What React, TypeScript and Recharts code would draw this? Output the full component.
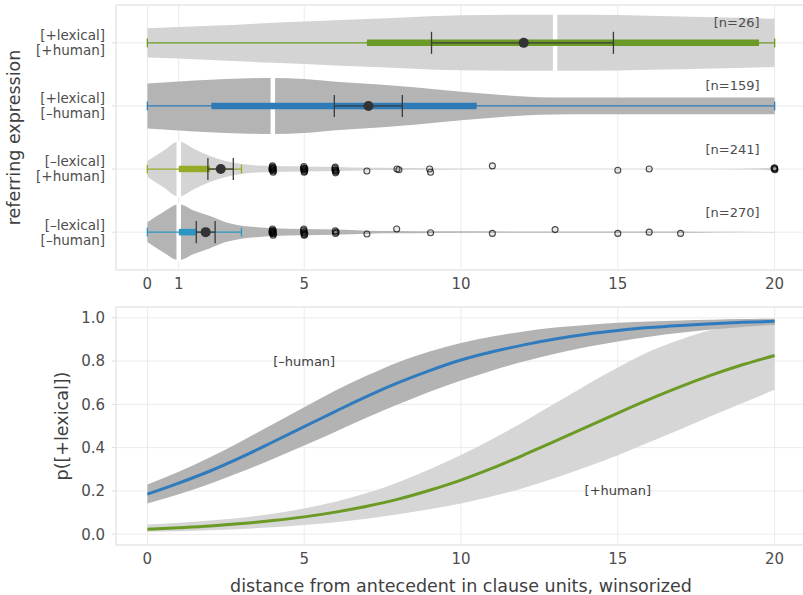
import React from 'react';
import {
  ComposedChart,
  Area,
  Line,
  Scatter,
  XAxis,
  YAxis,
  CartesianGrid,
  ReferenceArea
} from 'recharts';

// ---- top panel: distance by referring expression ----
const groupLabels = [
  ['[+lexical]', '[+human]'],
  ['[+lexical]', '[–human]'],
  ['[–lexical]', '[+human]'],
  ['[–lexical]', '[–human]']
];
const groupN = [26, 159, 241, 270];
const xTicksTop = [0, 1, 5, 10, 15, 20];

// violin outlines: distance values and half widths (in row units)
const violin1X = [0, 2, 4, 6, 8, 10, 12, 13, 14, 16, 18, 20];
const violin1Half = [0.233, 0.27, 0.317, 0.357, 0.397, 0.436, 0.444, 0.444, 0.444, 0.428, 0.405, 0.381];
const violin2X = [0, 1, 2, 3, 4, 5, 6, 7, 8, 9, 10, 11, 12, 13, 14, 16, 18, 20];
const violin2Half = [0.357, 0.388, 0.417, 0.436, 0.444, 0.428, 0.385, 0.353, 0.317, 0.273, 0.227, 0.187, 0.151, 0.135, 0.132, 0.132, 0.132, 0.132];
const violin3X = [0, 0.5, 1, 1.5, 2, 2.5, 3, 3.5, 4, 5, 6, 7, 8, 9, 10, 12, 15, 18, 19.5, 20];
const violin3Half = [0.127, 0.285, 0.436, 0.317, 0.206, 0.127, 0.079, 0.055, 0.048, 0.04, 0.032, 0.019, 0.016, 0.013, 0.008, 0.005, 0.005, 0.005, 0.013, 0.024];
const violin4X = [0, 0.5, 1, 1.5, 2, 2.5, 3, 3.5, 4, 5, 6, 7, 8, 9, 12, 15, 17, 18, 20];
const violin4Half = [0.158, 0.317, 0.444, 0.341, 0.254, 0.158, 0.103, 0.079, 0.063, 0.048, 0.04, 0.024, 0.019, 0.013, 0.011, 0.011, 0.01, 0.005, 0.003];

// box / summary stats per group
const medians = [13, 4, 1, 1];
const whiskerLo = [0, 0, 0, 0];
const whiskerHi = [20, 20, 3, 3];
const q1 = [7, 2.04, 1, 1];
const q3 = [19.5, 10.5, 2, 1.55];
const means = [12, 7.05, 2.34, 1.86];
const ciLo = [9.06, 5.96, 1.93, 1.56];
const ciHi = [14.86, 8.13, 2.74, 2.16];

// jittered outlying observations [distance, row]
const outliersRow3: [number, number][] = [
  [3.98, 2.97], [4.0, 3.0], [4.02, 3.03], [3.99, 2.95], [4.01, 3.05], [4.0, 3.02], [3.98, 2.99], [4.02, 2.98], [3.97, 3.01],
  [4.99, 2.96], [5.0, 3.0], [5.01, 3.04], [4.98, 2.98], [5.02, 3.02], [5.0, 3.05], [4.98, 3.01], [5.02, 2.99],
  [5.99, 2.97], [6.0, 3.01], [6.02, 3.04], [5.98, 2.99], [6.01, 3.03], [6.0, 3.06], [5.98, 3.02],
  [7, 3.03], [7.96, 3.0], [8.02, 3.01], [9.0, 3.0], [9.03, 3.05],
  [11, 2.95], [15, 3.02], [16, 3.0], [19.98, 2.99], [20, 3.0], [20.01, 3.01], [20, 2.98]
];
const outliersRow4: [number, number][] = [
  [3.98, 3.97], [4.0, 4.0], [4.02, 4.03], [3.99, 3.95], [4.01, 4.05], [4.0, 4.02], [3.98, 3.99], [4.02, 3.98], [3.97, 4.01],
  [4.99, 3.95], [5.0, 3.99], [5.01, 4.04], [4.98, 3.97], [5.02, 4.02], [5.0, 4.05], [4.98, 4.01],
  [5.99, 3.98], [6.0, 4.02], [6.02, 4.0],
  [7, 4.03], [7.95, 3.95], [9.03, 4.01], [11, 4.02], [13, 3.96], [15, 4.02], [16, 4.0], [17, 4.02]
];

// ---- bottom panel: predicted probabilities ----
const dist = [0, 1, 2, 3, 4, 5, 6, 7, 8, 9, 10, 11, 12, 13, 14, 15, 16, 17, 18, 19, 20];
const pNonHuman = [0.185, 0.236, 0.292, 0.356, 0.426, 0.497, 0.568, 0.637, 0.7, 0.756, 0.805, 0.843, 0.875, 0.902, 0.924, 0.941, 0.955, 0.965, 0.973, 0.979, 0.984];
const pNonHumanLo = [0.142, 0.184, 0.233, 0.288, 0.348, 0.41, 0.474, 0.539, 0.6, 0.658, 0.71, 0.757, 0.798, 0.834, 0.865, 0.891, 0.913, 0.931, 0.946, 0.958, 0.967];
const pNonHumanHi = [0.23, 0.288, 0.355, 0.43, 0.508, 0.587, 0.664, 0.733, 0.795, 0.844, 0.884, 0.914, 0.937, 0.955, 0.967, 0.977, 0.983, 0.988, 0.991, 0.994, 0.996];
const pHuman = [0.023, 0.03, 0.038, 0.049, 0.063, 0.08, 0.102, 0.129, 0.162, 0.203, 0.25, 0.305, 0.366, 0.43, 0.495, 0.56, 0.623, 0.682, 0.736, 0.784, 0.826];
const pHumanLo = [0.011, 0.014, 0.018, 0.024, 0.032, 0.042, 0.055, 0.071, 0.092, 0.115, 0.142, 0.175, 0.214, 0.26, 0.31, 0.365, 0.425, 0.485, 0.547, 0.608, 0.667];
const pHumanHi = [0.045, 0.053, 0.063, 0.076, 0.095, 0.119, 0.15, 0.19, 0.24, 0.3, 0.366, 0.44, 0.52, 0.605, 0.69, 0.77, 0.844, 0.9, 0.945, 0.97, 0.985];
const pTicks = [0, 0.2, 0.4, 0.6, 0.8, 1.0];
const xTicksBottom = [0, 5, 10, 15, 20];

// colours
const boxColors = ['#6b9a26', '#2e7bb8', '#97aa27', '#2b96c2'];
const violinFills = ['#d4d4d4', '#b4b4b4', '#d4d4d4', '#b4b4b4'];
const blue = '#2f7bbd';
const green = '#6b9a25';
const grid = '#ebebeb';
const textCol = '#4d4d4d';

const violinXs = [violin1X, violin2X, violin3X, violin4X];
const violinHalves = [violin1Half, violin2Half, violin3Half, violin4Half];

const violinData = violinXs.map((xs, i) =>
  xs.map((x, j) => ({ x, band: [i + 1 - violinHalves[i][j], i + 1 + violinHalves[i][j]] }))
);

type Seg = { pts: { x: number; y: number }[]; color: string; w: number };
const seg = (x1: number, y1: number, x2: number, y2: number, color: string, w: number): Seg => ({
  pts: [{ x: x1, y: y1 }, { x: x2, y: y2 }],
  color,
  w
});

const segments: Seg[] = [];
// white median gaps through the violins
medians.forEach((m, i) => {
  const idx = violinXs[i].indexOf(m);
  const h = violinHalves[i][idx] * 1.04;
  segments.push(seg(m, i + 1 - h, m, i + 1 + h, '#ffffff', 4.5));
});
// whiskers + caps
whiskerLo.forEach((lo, i) => {
  const y = i + 1;
  segments.push(seg(lo, y, whiskerHi[i], y, boxColors[i], 1.3));
  segments.push(seg(lo, y - 0.07, lo, y + 0.07, boxColors[i], 1.3));
  segments.push(seg(whiskerHi[i], y - 0.07, whiskerHi[i], y + 0.07, boxColors[i], 1.3));
});
// boxes
q1.forEach((a, i) => segments.push(seg(a, i + 1, q3[i], i + 1, boxColors[i], 6.5)));
// mean confidence intervals
ciLo.forEach((lo, i) => {
  const y = i + 1;
  segments.push(seg(lo, y, ciHi[i], y, '#3a3a3a', 1.3));
  segments.push(seg(lo, y - 0.175, lo, y + 0.175, '#3a3a3a', 1.3));
  segments.push(seg(ciHi[i], y - 0.175, ciHi[i], y + 0.175, '#3a3a3a', 1.3));
});

const meanData = means.map((m, i) => ({ x: m, y: i + 1 }));
const outlierData = [...outliersRow3, ...outliersRow4].map(([x, y]) => ({ x, y }));
const nLabelData = groupN.map((n, i) => ({ x: 20, y: i + 1, text: `[n=${n}]` }));

const probData = dist.map((x, i) => ({
  x,
  nonHuman: pNonHuman[i],
  nonHumanBand: [pNonHumanLo[i], pNonHumanHi[i]],
  human: pHuman[i],
  humanBand: [pHumanLo[i], pHumanHi[i]]
}));
const annotations = [
  { x: 5, y: 0.8, text: '[–human]' },
  { x: 15, y: 0.2, text: '[+human]' }
];

const GroupTick = (props: any) => {
  const { x, y, payload } = props;
  const lines = groupLabels[payload.value - 1];
  if (!lines) return null;
  return (
    <text x={x} y={y} textAnchor="end" fontSize={13.5} fill={textCol}>
      <tspan x={x} dy="-0.19em">{lines[0]}</tspan>
      <tspan x={x} dy="1.11em">{lines[1]}</tspan>
    </text>
  );
};

const TopChart = () => (
  <ComposedChart width={830} height={295} margin={{ top: 5, right: 24, bottom: 0, left: 0 }}>
    <CartesianGrid stroke={grid} />
    <XAxis
      type="number"
      dataKey="x"
      domain={[-1, 21]}
      ticks={xTicksTop}
      interval={0}
      allowDataOverflow
      axisLine={false}
      tickLine={false}
      height={25}
      tick={{ fontSize: 15, fill: textCol }}
    />
    <YAxis
      type="number"
      dataKey="y"
      domain={[0.4, 4.6]}
      reversed
      ticks={[1, 2, 3, 4]}
      interval={0}
      allowDataOverflow
      width={116}
      axisLine={false}
      tickLine={{ stroke: '#dedede' }}
      tickSize={4}
      tickMargin={7}
      tick={GroupTick}
      label={{
        value: 'referring expression',
        angle: -90,
        position: 'insideLeft',
        offset: 14,
        style: { textAnchor: 'middle', fontSize: 17.5, fill: '#404040' }
      }}
    />
    <ReferenceArea x1={-1} x2={21} y1={0.4} y2={4.6} fill="none" stroke="#e3e3e3" ifOverflow="visible" />
    {violinData.map((d, i) => (
      <Area
        key={`v${i}`}
        data={d}
        dataKey="band"
        type="monotone"
        stroke="none"
        fill={violinFills[i]}
        fillOpacity={1}
        isAnimationActive={false}
      />
    ))}
    {segments.map((s, i) => (
      <Line
        key={`s${i}`}
        data={s.pts}
        dataKey="y"
        type="linear"
        stroke={s.color}
        strokeWidth={s.w}
        dot={false}
        activeDot={false}
        isAnimationActive={false}
      />
    ))}
    <Scatter
      data={meanData}
      isAnimationActive={false}
      shape={(p: any) => <circle cx={p.cx} cy={p.cy} r={5} fill="#333333" />}
    />
    <Scatter
      data={outlierData}
      isAnimationActive={false}
      shape={(p: any) => (
        <circle
          cx={p.cx}
          cy={p.cy}
          r={3}
          fill="#000000"
          fillOpacity={0.08}
          stroke="#000000"
          strokeOpacity={0.7}
          strokeWidth={1.1}
        />
      )}
    />
    <Scatter
      data={nLabelData}
      isAnimationActive={false}
      shape={(p: any) => (
        <text x={p.cx - 15} y={p.cy - 20} textAnchor="end" dominantBaseline="central" fontSize={13} fill={textCol}>
          {p.payload.text}
        </text>
      )}
    />
  </ComposedChart>
);

const BottomChart = () => (
  <ComposedChart width={830} height={300} data={probData} margin={{ top: 12, right: 24, bottom: 0, left: 0 }}>
    <CartesianGrid stroke={grid} />
    <XAxis
      type="number"
      dataKey="x"
      domain={[-1, 21]}
      ticks={xTicksBottom}
      interval={0}
      allowDataOverflow
      axisLine={false}
      tickLine={false}
      height={50}
      tick={{ fontSize: 15, fill: textCol }}
      label={{
        value: 'distance from antecedent in clause units, winsorized',
        position: 'insideBottom',
        offset: 3,
        style: { fontSize: 17.5, fill: '#404040' }
      }}
    />
    <YAxis
      type="number"
      dataKey="y"
      domain={[-0.05, 1.05]}
      ticks={pTicks}
      interval={0}
      allowDataOverflow
      width={116}
      axisLine={false}
      tickLine={{ stroke: '#dedede' }}
      tickSize={4}
      tickMargin={7}
      tickFormatter={(v: number) => v.toFixed(1)}
      tick={{ fontSize: 15, fill: textCol }}
      label={{
        value: 'p([+lexical])',
        angle: -90,
        position: 'insideLeft',
        offset: 62,
        style: { textAnchor: 'middle', fontSize: 17.5, fill: '#404040' }
      }}
    />
    <ReferenceArea x1={-1} x2={21} y1={-0.05} y2={1.05} fill="none" stroke="#e3e3e3" ifOverflow="visible" />
    <Area dataKey="humanBand" type="monotone" stroke="none" fill="#d6d6d6" fillOpacity={1} isAnimationActive={false} />
    <Area dataKey="nonHumanBand" type="monotone" stroke="none" fill="#b3b3b3" fillOpacity={1} isAnimationActive={false} />
    <Line dataKey="human" type="monotone" stroke={green} strokeWidth={3} dot={false} activeDot={false} isAnimationActive={false} />
    <Line dataKey="nonHuman" type="monotone" stroke={blue} strokeWidth={3} dot={false} activeDot={false} isAnimationActive={false} />
    <Scatter
      data={annotations}
      isAnimationActive={false}
      shape={(p: any) => (
        <text x={p.cx} y={p.cy} textAnchor="middle" dominantBaseline="central" fontSize={13} fill="#404040">
          {p.payload.text}
        </text>
      )}
    />
  </ComposedChart>
);

export default function App() {
  return (
    <div
      style={{
        position: 'absolute',
        left: 0,
        top: 0,
        width: 803,
        height: 595,
        overflow: 'hidden',
        background: '#ffffff',
        fontFamily: '"DejaVu Sans", sans-serif'
      }}
    >
      <div style={{ position: 'absolute', left: 0, top: 0 }}>
        <TopChart />
      </div>
      <div style={{ position: 'absolute', left: 0, top: 295 }}>
        <BottomChart />
      </div>
    </div>
  );
}
